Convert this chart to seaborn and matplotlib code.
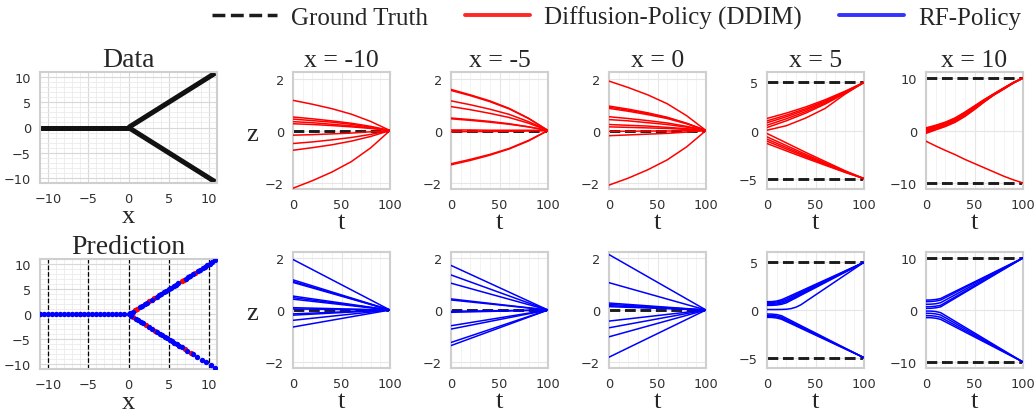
import matplotlib
matplotlib.use("Agg")
import matplotlib.pyplot as plt
from matplotlib.lines import Line2D
from matplotlib.ticker import MultipleLocator
import pandas as pd
import seaborn as sns

# ---------------- data ----------------
# Data panel (ground-truth branches)
data_flat_x = [-11.0, 0.0]
data_flat_z = [0.0, 0.0]
data_up_x = [0.0, 10.8]
data_up_z = [0.0, 10.8]
data_down_x = [0.0, 10.8]
data_down_z = [0.0, -10.8]

# Prediction panel scatter points
pred_blue_x = [-11.0, -10.5, -10.0, -9.5, -9.0, -8.5, -8.0, -7.5, -7.0, -6.5, -6.0, -5.5,
               -5.0, -4.5, -4.0, -3.5, -3.0, -2.5, -2.0, -1.5, -1.0, -0.5, 0.0,
               0.2, 0.5, 1.4, 1.7, 2.0, 2.3, 2.9, 3.5, 3.8, 4.1, 4.4, 4.7, 5.0, 5.3,
               5.6, 5.9, 6.2, 7.1, 7.4, 7.7, 8.0, 8.6, 8.9, 9.2, 9.5, 9.8, 10.1, 10.4, 10.8,
               0.3, 0.9, 1.2, 1.5, 1.8, 2.6, 2.9, 3.6, 3.9, 4.2, 4.5, 4.8, 5.1, 5.4,
               5.7, 6.0, 6.3, 6.6, 7.3, 8.0, 8.5, 9.1, 9.6, 10.2, 10.8]
pred_blue_z = [0.0, 0.0, 0.0, 0.0, 0.0, 0.0, 0.0, 0.0, 0.0, 0.0, 0.0, 0.0,
               0.0, 0.0, 0.0, 0.0, 0.0, 0.0, 0.0, 0.0, 0.0, 0.0, 0.0,
               0.2, 0.5, 1.4, 1.7, 2.0, 2.3, 2.9, 3.5, 3.8, 4.1, 4.4, 4.7, 5.0, 5.3,
               5.6, 5.9, 6.2, 7.1, 7.4, 7.7, 8.0, 8.6, 8.9, 9.2, 9.5, 9.8, 10.1, 10.4, 10.8,
               -0.3, -0.9, -1.2, -1.5, -1.8, -2.6, -2.9, -3.6, -3.9, -4.2, -4.5, -4.8, -5.1, -5.4,
               -5.7, -6.0, -6.3, -6.6, -7.3, -8.0, -8.5, -9.1, -9.6, -10.2, -10.8]
pred_red_x = [-11.0, -6.0, 0.8, 1.1, 2.6, 3.2, 6.6, 6.9, 8.3, 0.6, 2.2, 3.3, 7.0, 7.8]
pred_red_z = [0.0, 0.0, 0.8, 1.1, 2.6, 3.2, 6.6, 6.9, 8.3, -0.6, -2.2, -3.3, -7.0, -7.8]
pred_vlines = [-10, -5, 0, 5, 10]

# time grids
t_ddim6 = [0, 20, 40, 60, 80, 100]
t_ddim11 = [0, 10, 20, 30, 40, 50, 60, 70, 80, 90, 100]
t_rf2 = [0, 100]
t_rf5 = [0, 5, 10, 15, 20, 25, 30, 35, 50, 75, 100]
t_rf10 = [0, 5, 10, 15, 25, 50, 75, 100]

# Diffusion-Policy (DDIM) trajectories
ddim_m10 = [
    [1.16, 1.01, 0.84, 0.63, 0.35, 0.0],
    [0.52, 0.45, 0.37, 0.28, 0.16, 0.0],
    [0.44, 0.38, 0.32, 0.24, 0.13, 0.0],
    [0.34, 0.30, 0.24, 0.18, 0.10, 0.0],
    [0.26, 0.23, 0.19, 0.14, 0.08, 0.0],
    [-0.18, -0.16, -0.13, -0.10, -0.05, 0.0],
    [-0.50, -0.44, -0.36, -0.27, -0.15, 0.0],
    [-0.76, -0.66, -0.55, -0.41, -0.23, 0.0],
    [-2.22, -1.93, -1.60, -1.20, -0.67, 0.0],
]
ddim_m5 = [
    [1.58, 1.37, 1.14, 0.85, 0.47, 0.0],
    [1.54, 1.34, 1.11, 0.83, 0.46, 0.0],
    [1.14, 0.99, 0.82, 0.62, 0.34, 0.0],
    [0.92, 0.80, 0.66, 0.50, 0.28, 0.0],
    [0.48, 0.42, 0.35, 0.26, 0.14, 0.0],
    [0.45, 0.39, 0.32, 0.24, 0.14, 0.0],
    [0.02, 0.02, 0.01, 0.01, 0.01, 0.0],
    [-0.05, -0.04, -0.04, -0.03, -0.02, 0.0],
    [-1.28, -1.11, -0.92, -0.69, -0.38, 0.0],
    [-1.32, -1.15, -0.95, -0.71, -0.40, 0.0],
]
ddim_0 = [
    [1.90, 1.65, 1.37, 1.03, 0.57, 0.0],
    [0.94, 0.82, 0.68, 0.51, 0.28, 0.0],
    [0.90, 0.78, 0.65, 0.49, 0.27, 0.0],
    [0.85, 0.74, 0.61, 0.46, 0.26, 0.0],
    [0.53, 0.46, 0.38, 0.29, 0.16, 0.0],
    [0.42, 0.37, 0.30, 0.23, 0.13, 0.0],
    [0.23, 0.20, 0.17, 0.12, 0.07, 0.0],
    [0.14, 0.12, 0.10, 0.08, 0.04, 0.0],
    [-0.03, -0.03, -0.02, -0.02, -0.01, 0.0],
    [-0.20, -0.17, -0.14, -0.11, -0.06, 0.0],
    [-2.10, -1.83, -1.51, -1.13, -0.63, 0.0],
]
ddim_5 = [
    [1.25, 1.81, 2.45, 3.20, 4.06, 5.0],
    [1.00, 1.60, 2.28, 3.08, 4.00, 5.0],
    [0.80, 1.43, 2.14, 2.98, 3.95, 5.0],
    [0.55, 1.22, 1.97, 2.86, 3.89, 5.0],
    [0.31, 1.01, 1.81, 2.75, 3.83, 5.0],
    [0.03, 0.50, 1.30, 2.30, 3.75, 5.0],
    [-0.31, -1.29, -2.28, -3.22, -4.16, -5.0],
    [-0.66, -1.57, -2.48, -3.35, -4.22, -5.0],
    [-0.90, -1.76, -2.62, -3.44, -4.26, -5.0],
    [-1.11, -1.93, -2.74, -3.52, -4.30, -5.0],
    [-1.35, -2.12, -2.88, -3.61, -4.34, -5.0],
]
ddim_10 = [
    [0.50, 1.00, 1.60, 2.40, 3.50, 4.70, 5.90, 7.00, 8.10, 9.15, 10.0],
    [0.35, 0.88, 1.48, 2.28, 3.38, 4.60, 5.83, 6.97, 8.07, 9.13, 10.0],
    [0.20, 0.75, 1.36, 2.16, 3.26, 4.50, 5.76, 6.93, 8.04, 9.11, 10.0],
    [0.05, 0.63, 1.24, 2.04, 3.14, 4.40, 5.70, 6.90, 8.00, 9.10, 10.0],
    [-0.10, 0.50, 1.12, 1.92, 3.02, 4.30, 5.64, 6.87, 7.97, 9.09, 10.0],
    [-0.25, 0.38, 1.00, 1.80, 2.90, 4.20, 5.57, 6.83, 7.94, 9.07, 10.0],
    [-0.40, 0.25, 0.88, 1.68, 2.78, 4.10, 5.50, 6.80, 7.90, 9.05, 10.0],
    [-0.55, 0.12, 0.76, 1.56, 2.66, 4.00, 5.43, 6.76, 7.87, 9.03, 10.0],
    [-2.04, -2.95, -3.80, -4.60, -5.50, -6.30, -7.10, -7.90, -8.70, -9.40, -10.0],
]

# RF-Policy trajectories
rf_m10 = [[1.96, 0.0], [1.17, 0.0], [1.11, 0.0], [1.07, 0.0], [0.54, 0.0], [0.48, 0.0],
          [0.42, 0.0], [0.09, 0.0], [0.04, 0.0], [-0.15, 0.0], [-0.20, 0.0], [-0.40, 0.0],
          [-0.66, 0.0]]
rf_m5 = [[1.73, 0.0], [1.36, 0.0], [1.04, 0.0], [0.43, 0.0], [0.39, 0.0], [-0.05, 0.0],
         [-0.09, 0.0], [-0.61, 0.0], [-0.74, 0.0], [-1.26, 0.0], [-1.38, 0.0]]
rf_0 = [[2.15, 0.0], [1.06, 0.0], [0.27, 0.0], [0.22, 0.0], [0.17, 0.0], [0.13, 0.0],
        [-0.43, 0.0], [-0.69, 0.0], [-1.04, 0.0], [-1.83, 0.0]]
rf_5 = [
    [0.87, 0.88, 0.94, 1.08, 1.30, 1.53, 1.76, 1.99, 2.69, 3.84, 5.0],
    [0.78, 0.79, 0.84, 0.96, 1.15, 1.39, 1.63, 1.87, 2.59, 3.80, 5.0],
    [0.68, 0.69, 0.73, 0.84, 1.00, 1.25, 1.50, 1.75, 2.50, 3.75, 5.0],
    [0.58, 0.59, 0.62, 0.72, 0.88, 1.14, 1.39, 1.65, 2.43, 3.71, 5.0],
    [0.48, 0.49, 0.52, 0.60, 0.75, 1.02, 1.28, 1.55, 2.34, 3.67, 5.0],
    [0.05, 0.05, 0.05, 0.06, 0.08, 0.15, 0.30, 0.55, 1.58, 3.29, 5.0],
    [-0.42, -0.43, -0.48, -0.60, -0.86, -1.12, -1.38, -1.64, -2.41, -3.71, -5.0],
    [-0.55, -0.56, -0.62, -0.75, -1.00, -1.25, -1.50, -1.75, -2.50, -3.75, -5.0],
    [-0.66, -0.67, -0.73, -0.86, -1.10, -1.35, -1.59, -1.83, -2.56, -3.78, -5.0],
    [-0.77, -0.78, -0.84, -0.97, -1.21, -1.44, -1.68, -1.92, -2.63, -3.82, -5.0],
]
rf_10 = [
    [1.90, 1.93, 2.02, 2.20, 3.12, 5.41, 7.71, 10.0],
    [1.60, 1.63, 1.72, 1.90, 2.85, 5.24, 7.62, 10.0],
    [1.10, 1.12, 1.20, 1.40, 2.41, 4.94, 7.47, 10.0],
    [0.63, 0.65, 0.73, 0.90, 1.97, 4.65, 7.33, 10.0],
    [0.32, 0.33, 0.42, 0.60, 1.71, 4.47, 7.24, 10.0],
    [-0.20, -0.21, -0.30, -0.50, -1.62, -4.41, -7.21, -10.0],
    [-0.63, -0.65, -0.75, -0.95, -2.01, -4.68, -7.34, -10.0],
    [-1.08, -1.10, -1.20, -1.40, -2.41, -4.94, -7.47, -10.0],
    [-1.46, -1.48, -1.58, -1.80, -2.76, -5.18, -7.59, -10.0],
]

panel_titles = ["x = -10", "x = -5", "x = 0", "x = 5", "x = 10"]
gt_levels = [[0.0], [0.0], [0.0], [5.0, -5.0], [10.0, -10.0]]
panel_ylims = [2.25, 2.25, 2.25, 6.08, 11.15]
panel_yticks = [[-2, 0, 2], [-2, 0, 2], [-2, 0, 2], [-5, 0, 5], [-10, 0, 10]]
t_ticks = [0, 50, 100]

ddim_sets = [(t_ddim6, ddim_m10), (t_ddim6, ddim_m5), (t_ddim6, ddim_0),
             (t_ddim6, ddim_5), (t_ddim11, ddim_10)]
rf_sets = [(t_rf2, rf_m10), (t_rf2, rf_m5), (t_rf2, rf_0),
           (t_rf5, rf_5), (t_rf10, rf_10)]

legend_labels = ["Ground Truth", "Diffusion-Policy (DDIM)", "RF-Policy"]

# ---------------- style ----------------
sns.set_theme(style="whitegrid")
SERIF = "Liberation Serif"
RED = "#ff0000"
BLUE = "#0000ff"
GT = "#1c1c1c"
TICK_FS = 9.3
TITLE_FS_BIG = 20
TITLE_FS = 18.5
LABEL_FS = 19

W, H = 1036, 414
fig = plt.figure(figsize=(W / 100, H / 100), dpi=100)


def rect(x0, y0, x1, y1):
    return [x0 / W, 1 - y1 / H, (x1 - x0) / W, (y1 - y0) / H]


def style_axes(ax, major_c, minor_c):
    for s in ax.spines.values():
        s.set_color("#cfcfcf")
        s.set_linewidth(1.5)
    ax.tick_params(axis="both", which="both", length=0, pad=6.5,
                   labelsize=TICK_FS, labelcolor="#303030")
    ax.grid(True, which="major", color=major_c, linewidth=0.8)
    ax.grid(True, which="minor", color=minor_c, linewidth=0.6)
    ax.set_axisbelow(True)


def draw_curves(ax, t, curves, color):
    rows = []
    for i, c in enumerate(curves):
        for tt, zz in zip(t, c):
            rows.append((i, tt, zz))
    df = pd.DataFrame(rows, columns=["curve", "t", "z"])
    sns.lineplot(data=df, x="t", y="z", units="curve", estimator=None,
                 color=color, linewidth=1.1, ax=ax, legend=False, zorder=3)


# ---- Data panel ----
axd = fig.add_axes(rect(40, 73, 217, 184))
for xs, zs in [(data_flat_x, data_flat_z), (data_up_x, data_up_z), (data_down_x, data_down_z)]:
    sns.lineplot(x=xs, y=zs, ax=axd, color="#111111", linewidth=3.6, sort=False,
                 estimator=None, solid_capstyle="butt")
axd.set_xlim(-11, 11)
axd.set_ylim(-11, 11)
axd.set_xticks([-10, -5, 0, 5, 10])
axd.set_yticks([-10, -5, 0, 5, 10])
axd.xaxis.set_minor_locator(MultipleLocator(1))
axd.yaxis.set_minor_locator(MultipleLocator(1))
style_axes(axd, "#d8d8d8", "#ebebeb")
axd.set_title("Data", fontsize=TITLE_FS_BIG, family=SERIF, pad=4)
axd.set_xlabel("x", fontsize=LABEL_FS, family=SERIF, labelpad=0)
axd.set_ylabel("")

# ---- Prediction panel ----
axp = fig.add_axes(rect(40, 260, 217, 370))
for v in pred_vlines:
    axp.axvline(v, color="black", linestyle="--", linewidth=0.9, zorder=2)
sns.scatterplot(x=pred_red_x, y=pred_red_z, ax=axp, color=RED, s=15,
                linewidth=0, zorder=3)
sns.scatterplot(x=pred_blue_x, y=pred_blue_z, ax=axp, color=BLUE, s=15,
                linewidth=0, zorder=4)
axp.set_xlim(-11, 11)
axp.set_ylim(-11, 11)
axp.set_xticks([-10, -5, 0, 5, 10])
axp.set_yticks([-10, -5, 0, 5, 10])
axp.xaxis.set_minor_locator(MultipleLocator(1))
axp.yaxis.set_minor_locator(MultipleLocator(1))
style_axes(axp, "#d8d8d8", "#ebebeb")
axp.set_title("Prediction", fontsize=TITLE_FS_BIG, family=SERIF, pad=4)
axp.set_xlabel("x", fontsize=LABEL_FS, family=SERIF, labelpad=0)
axp.set_ylabel("")

# ---- trajectory panels ----
col_left = [293, 451, 609, 767, 926]
col_w = 97
rows_y = [(73, 190), (253, 369)]

for r, sets in enumerate([ddim_sets, rf_sets]):
    color = RED if r == 0 else BLUE
    y0, y1 = rows_y[r]
    for c in range(5):
        ax = fig.add_axes(rect(col_left[c], y0, col_left[c] + col_w, y1))
        for g in gt_levels[c]:
            sns.lineplot(x=[0, 100], y=[g, g], ax=ax, color=GT, linewidth=2.1,
                         linestyle="--", estimator=None, zorder=2)
        t, curves = sets[c]
        draw_curves(ax, t, curves, color)
        ax.set_xlim(0, 100)
        lim = panel_ylims[c]
        ax.set_ylim(-lim, lim)
        ax.set_xticks(t_ticks)
        ax.set_yticks(panel_yticks[c])
        ax.xaxis.set_minor_locator(MultipleLocator(10))
        style_axes(ax, "#e6e6e6", "#f1f1f1")
        ax.set_xlabel("t", fontsize=LABEL_FS, family=SERIF, labelpad=0)
        if c == 0:
            ax.set_ylabel("z", fontsize=LABEL_FS, family=SERIF, rotation=0,
                          ha="center", va="center")
            ax.yaxis.set_label_coords(-0.42, 0.47)
        else:
            ax.set_ylabel("")
        if r == 0:
            ax.set_title(panel_titles[c], fontsize=TITLE_FS, family=SERIF, pad=4)

# ---- legend ----
handles = [
    Line2D([0], [0], color=GT, linestyle="--", linewidth=2.5),
    Line2D([0], [0], color=RED, linewidth=2.8, alpha=0.85),
    Line2D([0], [0], color=BLUE, linewidth=2.8, alpha=0.8),
]
fig.legend(handles, legend_labels, loc="upper center", bbox_to_anchor=(0.595, 1.02),
           ncol=3, frameon=False, prop={"family": SERIF, "size": 18},
           handlelength=2.6, handletextpad=0.55, columnspacing=1.5, borderaxespad=0.2)

fig.savefig("out.png", dpi=100)
